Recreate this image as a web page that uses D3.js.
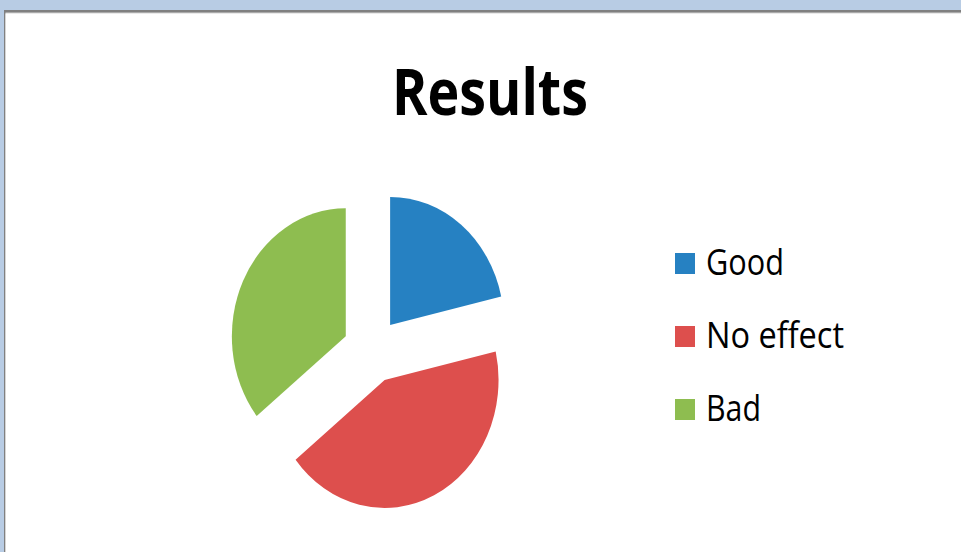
<!DOCTYPE html>
<html><head><meta charset="utf-8">
<script src="https://cdn.jsdelivr.net/npm/d3@7"></script>
<style>html,body{margin:0;padding:0;background:#B8CCE4;overflow:hidden}</style>
</head><body>
<script>
const categories = ["Good", "No effect", "Bad"];
const values = [3, 6, 5];
const colors = ["#2681C2", "#DD4F4D", "#8EBD50"];
const title = "Results";

const W = 961, H = 552;
const svg = d3.select("body").append("svg").attr("width", W).attr("height", H);

// frame
svg.append("rect").attr("x", 4).attr("y", 10).attr("width", W).attr("height", H).attr("fill", "#808080");
svg.append("rect").attr("x", 5.5).attr("y", 12.5).attr("width", W).attr("height", H).attr("fill", "#D4D4D4");
svg.append("rect").attr("x", 5.5).attr("y", 13.5).attr("width", W).attr("height", H).attr("fill", "#FFFFFF");

// title
const t = svg.append("text").attr("x", 490).attr("y", 115)
  .attr("text-anchor", "middle").attr("font-family", "Open Sans")
  .attr("font-weight", "bold").attr("font-size", 65).attr("fill", "#000")
  .attr("textLength", 196).attr("lengthAdjust", "spacingAndGlyphs").text(title);

// pie
const cx = 372, cy = 350.5, r = 128, sx = 0.89, explode = 32.7;
const pie = d3.pie().sort(null).value(d => d);
const arcs = pie(values);
const arc = d3.arc().innerRadius(0).outerRadius(r);
const g = svg.append("g").attr("transform", `translate(${cx},${cy}) scale(${sx},1)`);
g.selectAll("path").data(arcs).join("path")
  .attr("d", arc)
  .attr("fill", (d, i) => colors[i])
  .attr("transform", d => {
    const a = (d.startAngle + d.endAngle) / 2;
    return `translate(${explode * Math.sin(a)},${-explode * Math.cos(a)})`;
  });

// legend
const legendWidths = [78, 138, 55];
const lg = svg.append("g");
const rowY = d3.scalePoint().domain(categories).range([275, 421]);
categories.forEach((c, i) => {
  const y = rowY(c);
  lg.append("rect").attr("x", 675).attr("y", y - 22).attr("width", 20).attr("height", 21)
    .attr("fill", colors[i]);
  lg.append("text").attr("x", 706).attr("y", y)
    .attr("font-family", "Open Sans").attr("font-size", 37).attr("fill", "#000")
    .attr("textLength", legendWidths[i]).attr("lengthAdjust", "spacingAndGlyphs").text(c);
});
</script>
</body></html>
